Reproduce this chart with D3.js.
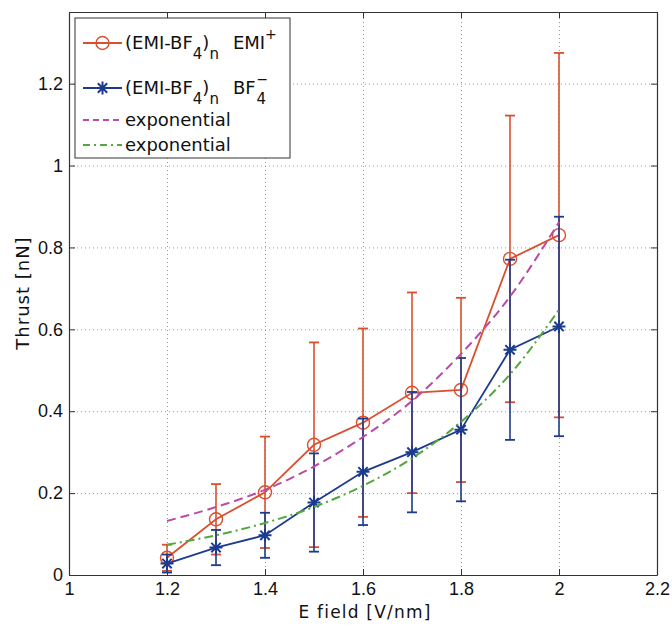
<!DOCTYPE html>
<html><head><meta charset="utf-8">
<script src="https://cdn.jsdelivr.net/npm/d3@7"></script>
<style>
body{margin:0;background:#fff;}
svg text{fill:#111;}
.tk text{font-family:"Liberation Sans",Arial,sans-serif;}
.lab{font-family:"DejaVu Sans",sans-serif;}
</style></head>
<body><svg id="c" width="672" height="626"></svg>
<script>
const efield = [1.2,1.3,1.4,1.5,1.6,1.7,1.8,1.9,2.0];
const emiThrust = [0.042,0.136,0.202,0.318,0.372,0.445,0.452,0.772,0.830];
const emiErr = [0.032,0.086,0.136,0.250,0.230,0.245,0.225,0.350,0.445];
const bfThrust = [0.028,0.067,0.097,0.177,0.252,0.300,0.355,0.550,0.607];
const bfErr = [0.022,0.043,0.055,0.120,0.130,0.147,0.175,0.220,0.268];
const expEmi = [0.132,0.166,0.208,0.265,0.337,0.425,0.540,0.680,0.862];
const expBf = [0.074,0.097,0.127,0.166,0.218,0.285,0.374,0.490,0.648];
const xTicks = [1,1.2,1.4,1.6,1.8,2,2.2];
const yTicks = [0,0.2,0.4,0.6,0.8,1,1.2];

const svg = d3.select("#c");
const L=69,R=657,T=12,B=575;
const x = d3.scaleLinear().domain([1,2.2]).range([L,R]);
const y = d3.scaleLinear().domain([0,1.375]).range([B,T]);
const red="#d8502f", blue="#1d3b8e", mag="#b84ca8", green="#52a83c";
const fmt = d => String(d);

// grid
const gx = svg.append("g").attr("transform",`translate(0,${B})`)
  .call(d3.axisBottom(x).tickValues(xTicks).tickSize(-(B-T)).tickFormat(""));
const gy = svg.append("g").attr("transform",`translate(${L},0)`)
  .call(d3.axisLeft(y).tickValues(yTicks).tickSize(-(R-L)).tickFormat(""));
[gx,gy].forEach(g=>{g.select(".domain").remove();
  g.selectAll("line").attr("stroke","#999").attr("stroke-dasharray","1,3").attr("stroke-width",1);});

// axes with inward ticks
const axB = svg.append("g").attr("class","tk").attr("transform",`translate(0,${B})`)
  .call(d3.axisBottom(x).tickValues(xTicks).tickSizeInner(-6).tickSizeOuter(0).tickPadding(7).tickFormat(fmt));
const axT = svg.append("g").attr("class","tk").attr("transform",`translate(0,${T})`)
  .call(d3.axisTop(x).tickValues(xTicks).tickSizeInner(-6).tickSizeOuter(0).tickFormat(""));
const axL = svg.append("g").attr("class","tk").attr("transform",`translate(${L},0)`)
  .call(d3.axisLeft(y).tickValues(yTicks).tickSizeInner(-6).tickSizeOuter(0).tickPadding(6).tickFormat(fmt));
const axR = svg.append("g").attr("class","tk").attr("transform",`translate(${R},0)`)
  .call(d3.axisRight(y).tickValues(yTicks).tickSizeInner(-6).tickSizeOuter(0).tickFormat(""));
[axB,axT,axL,axR].forEach(g=>{
  g.select(".domain").attr("stroke","#333").attr("stroke-width",1.2);
  g.selectAll(".tick line").attr("stroke","#333");
  g.selectAll("text").style("font-size","18px").attr("fill","#111");
});

function drawMarker(g,cx,cy,color,marker){
  if(marker==="o"){
    g.append("circle").attr("cx",cx).attr("cy",cy).attr("r",6.5).attr("fill","none").attr("stroke",color).attr("stroke-width",1.4);
  } else {
    const s=6.5, d=s*0.72;
    const p=`M${cx-s},${cy}L${cx+s},${cy}M${cx},${cy-s}L${cx},${cy+s}M${cx-d},${cy-d}L${cx+d},${cy+d}M${cx-d},${cy+d}L${cx+d},${cy-d}`;
    g.append("path").attr("d",p).attr("stroke",color).attr("stroke-width",2).attr("fill","none");
  }
}
function series(vals, err, color, marker){
  const g = svg.append("g");
  efield.forEach((e,i)=>{
    const xc=x(e), y1=y(vals[i]+err[i]), y0=y(vals[i]-err[i]);
    g.append("line").attr("x1",xc).attr("x2",xc).attr("y1",y1).attr("y2",y0).attr("stroke",color).attr("stroke-width",1.6);
    [y1,y0].forEach(yy=>g.append("line").attr("x1",xc-5).attr("x2",xc+5).attr("y1",yy).attr("y2",yy).attr("stroke",color).attr("stroke-width",1.8));
  });
  const line = d3.line().x((d,i)=>x(efield[i])).y(d=>y(d));
  g.append("path").datum(vals).attr("d",line).attr("fill","none").attr("stroke",color).attr("stroke-width",1.8);
  efield.forEach((e,i)=>drawMarker(g, x(e), y(vals[i]), color, marker));
}
series(emiThrust, emiErr, red, "o");
series(bfThrust, bfErr, blue, "*");
const fl = d3.line().x((d,i)=>x(efield[i])).y(d=>y(d)).curve(d3.curveMonotoneX);
svg.append("path").datum(expEmi).attr("d",fl).attr("fill","none").attr("stroke",mag).attr("stroke-width",2).attr("stroke-dasharray","9,5");
svg.append("path").datum(expBf).attr("d",fl).attr("fill","none").attr("stroke",green).attr("stroke-width",2).attr("stroke-dasharray","9,4,2,4");

// axis labels
svg.append("text").attr("class","lab").attr("x",365).attr("y",618).attr("text-anchor","middle")
  .style("font-size","17px").style("letter-spacing","1.2px").text("E field [V/nm]");
svg.append("text").attr("class","lab").attr("transform","translate(29,293) rotate(-90)").attr("text-anchor","middle")
  .style("font-size","18px").style("letter-spacing","1px").text("Thrust [nN]");

// legend
const lg = svg.append("g");
lg.append("rect").attr("x",75).attr("y",18).attr("width",215).attr("height",140).attr("fill","#fff").attr("stroke","#333").attr("stroke-width",1);
const rows=[43,88,120,145];
const lx0=83, lx1=122, tx=125;
lg.append("line").attr("x1",lx0).attr("x2",lx1).attr("y1",rows[0]).attr("y2",rows[0]).attr("stroke",red).attr("stroke-width",1.8);
drawMarker(lg,(lx0+lx1)/2,rows[0],red,"o");
lg.append("line").attr("x1",lx0).attr("x2",lx1).attr("y1",rows[1]).attr("y2",rows[1]).attr("stroke",blue).attr("stroke-width",1.8);
drawMarker(lg,(lx0+lx1)/2,rows[1],blue,"*");
lg.append("line").attr("x1",lx0).attr("x2",lx1).attr("y1",rows[2]).attr("y2",rows[2]).attr("stroke",mag).attr("stroke-width",1.8).attr("stroke-dasharray","6,4");
lg.append("line").attr("x1",lx0).attr("x2",lx1).attr("y1",rows[3]).attr("y2",rows[3]).attr("stroke",green).attr("stroke-width",1.8).attr("stroke-dasharray","7,4,2,4");
const fs=18;
function formula(yy, tail){
  const t = lg.append("text").attr("class","lab").attr("x",tx).attr("y",yy+6).style("font-size",fs+"px");
  t.append("tspan").text("(EMI-BF");
  t.append("tspan").attr("dy",10).style("font-size","15px").text("4");
  t.append("tspan").attr("dy",-10).text(")");
  t.append("tspan").attr("dy",10).style("font-size","15px").text("n");
  t.append("tspan").attr("dy",-10).attr("dx",14).text(tail);
  return t;
}
const t1 = formula(rows[0], "EMI");
t1.append("tspan").attr("dy",-10).style("font-size","14px").text("+");
const t2 = formula(rows[1], "BF");
const bb = t2.node().getBBox();
lg.append("text").attr("class","lab").attr("x",bb.x+bb.width+1).attr("y",rows[1]+16).style("font-size","15px").text("4");
lg.append("text").attr("class","lab").attr("x",bb.x+bb.width+1).attr("y",rows[1]-4).style("font-size","14px").text("\u2212");
lg.append("text").attr("class","lab").attr("x",tx).attr("y",rows[2]+6).style("font-size",fs+"px").text("exponential");
lg.append("text").attr("class","lab").attr("x",tx).attr("y",rows[3]+6).style("font-size",fs+"px").text("exponential");
</script></body></html>
